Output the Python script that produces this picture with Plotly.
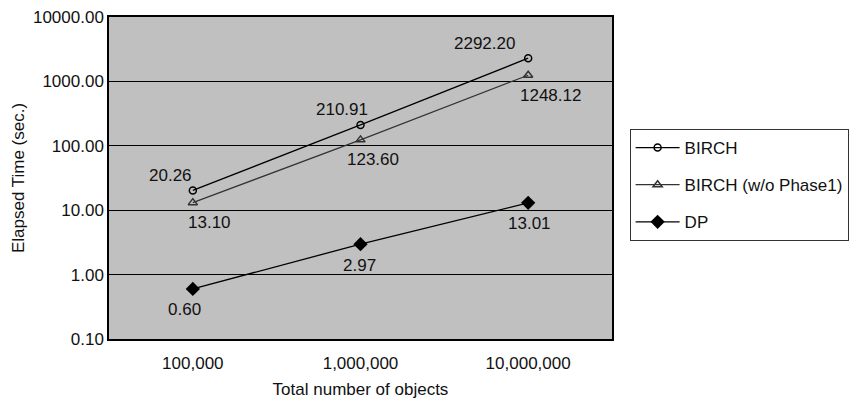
import math
import plotly.graph_objects as go

categories = ["100,000", "1,000,000", "10,000,000"]
birch = [20.26, 210.91, 2292.20]
birch_wo = [13.10, 123.60, 1248.12]
dp = [0.60, 2.97, 13.01]
y_ticks = [0.1, 1, 10, 100, 1000, 10000]
y_ticktext = ["0.10", "1.00", "10.00", "100.00", "1000.00", "10000.00"]

FONT = "Liberation Sans, Arial, sans-serif"
FS = 17

fig = go.Figure()
fig.add_trace(go.Scatter(
    x=categories, y=birch, name="BIRCH", mode="lines+markers",
    line=dict(color="black", width=1.3),
    marker=dict(symbol="circle-open", size=7, color="black", line=dict(width=1.5)),
    legendgroup="a"))
fig.add_trace(go.Scatter(
    x=categories, y=birch_wo, name="BIRCH (w/o Phase1)", mode="lines+markers",
    line=dict(color="#333333", width=1.2),
    marker=dict(symbol="triangle-up-open", size=8, color="#333333", line=dict(width=1.5)),
    legendgroup="b"))
fig.add_trace(go.Scatter(
    x=categories, y=dp, name="DP", mode="lines+markers",
    line=dict(color="black", width=1.3),
    marker=dict(symbol="diamond", size=11, color="black"),
    legendgroup="c"))

# data labels
birch_shift = [(-22, 15), (-19, 15), (-44, 15)]
wo_shift = [(17, -20), (12, -20), (22, -20)]
dp_shift = [(-8, -21), (-1, -21), (1, -21)]
for vals, shifts in ((birch, birch_shift), (birch_wo, wo_shift), (dp, dp_shift)):
    for c, v, (dx, dy) in zip(categories, vals, shifts):
        fig.add_annotation(x=c, y=math.log10(v), text=f"{v:.2f}", showarrow=False,
                           xshift=dx, yshift=dy,
                           font=dict(family=FONT, size=FS, color="#111111"))

# page body has an 8px margin, so the figure is drawn at (8, 8)
fig.update_layout(
    width=850, height=397,
    margin=dict(l=101, r=246, t=9, b=66, autoexpand=False),
    paper_bgcolor="white", plot_bgcolor="#c0c0c0",
    font=dict(family=FONT, size=FS, color="#111111"),
    showlegend=True,
    legend=dict(x=1.035, xanchor="left", y=0.652, yanchor="top",
                bordercolor="#333333", borderwidth=1, bgcolor="white",
                font=dict(family=FONT, size=FS, color="#111111"),
                itemwidth=44,
                tracegroupgap=12, traceorder="grouped"),
    xaxis=dict(type="category", range=[-0.5, 2.5], showgrid=False, automargin=False,
               showline=True, linecolor="black", linewidth=1.5, mirror=True,
               ticks="", ticklabelstandoff=8,
               title=dict(text="Total number of objects", standoff=11,
                          font=dict(family=FONT, size=FS))),
    yaxis=dict(type="log", range=[-1, 4], tickvals=y_ticks, ticktext=y_ticktext,
               showgrid=True, gridcolor="black", gridwidth=1, automargin=False,
               showline=True, linecolor="black", linewidth=1.5, mirror=True,
               ticks="", zeroline=False, ticklabeloverflow="allow",
               title=dict(text="Elapsed Time (sec.)", standoff=4,
                          font=dict(family=FONT, size=FS))),
)

fig.write_html("out.html")
